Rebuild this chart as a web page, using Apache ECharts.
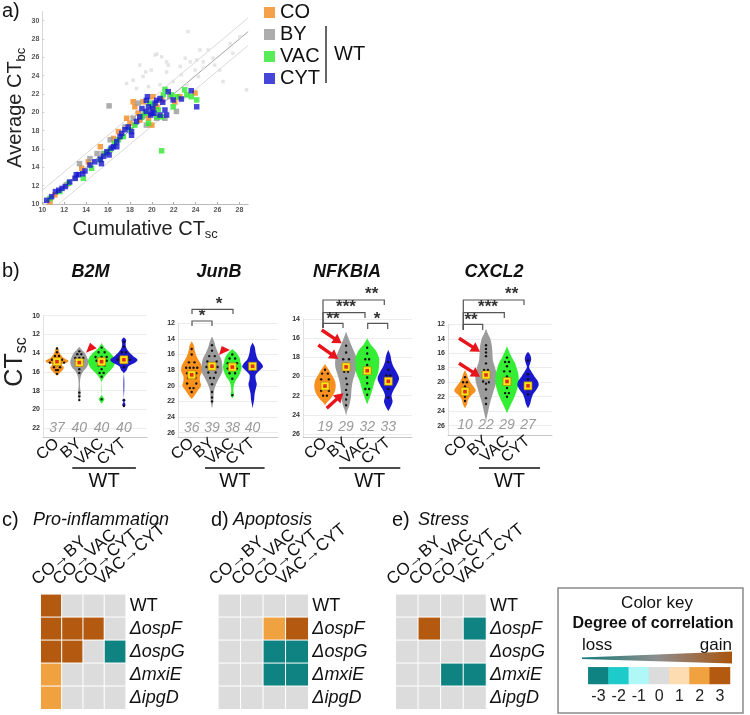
<!DOCTYPE html>
<html><head><meta charset="utf-8">
<script src="https://cdn.jsdelivr.net/npm/echarts@6/dist/echarts.min.js"></script>
<style>html,body{margin:0;padding:0;background:#fff}#c{width:750px;height:715px}</style>
</head><body><div id="c"></div>
<script>
// ---------------- DATA ----------------
const groups = ['CO', 'BY', 'VAC', 'CYT'];
// panel a: [cumulative CTsc, average CTbc]
const coPts = [[10.7,10.25],[11.15,11.0],[13.6,13.9],[14.2,14.6],[15.3,16.25],[16.5,17.15],[16.95,17.9],[17.7,19.35],[18.0,18.8],[18.3,21.15],[18.45,20.6],[18.75,19.9],[18.9,19.15],[19.2,21.15],[19.7,19.35],[20.0,18.6],[20.1,21.7],[20.45,20.6],[20.9,21.35],[22.1,21.15],[22.55,21.7],[23.95,22.1]];
const byPts = [[12.2,12.1],[13.0,12.8],[13.4,14.4],[14.35,14.95],[15.0,15.5],[15.55,15.5],[16.1,20.7],[16.2,17.0],[17.55,18.4],[18.3,19.35],[18.75,21.0],[19.2,19.7],[19.5,18.6],[20.0,20.45],[20.45,19.35],[21.2,19.35],[21.65,21.7],[22.25,20.1]];
const vacPts = [[9.95,10.1],[10.7,10.6],[11.6,11.35],[12.4,12.25],[13.75,12.8],[14.5,13.9],[15.3,14.8],[15.75,15.5],[16.2,15.9],[16.6,16.6],[16.95,17.0],[17.4,17.35],[18.0,18.1],[18.45,18.6],[19.1,19.5],[19.4,19.9],[19.7,18.8],[19.8,21.0],[20.1,20.8],[20.45,19.5],[20.6,20.25],[20.9,19.5],[20.9,15.8],[21.05,21.9],[21.2,22.5],[21.8,21.9],[21.95,20.6],[22.3,21.7],[23.0,22.45],[23.2,21.9],[23.6,21.7],[24.1,21.35]];
const cytPts = [[10.3,9.8],[10.4,10.4],[10.85,10.8],[11.2,11.35],[11.5,11.5],[11.8,11.7],[12.1,11.9],[12.5,12.4],[13.0,12.8],[13.1,13.2],[13.3,13.2],[13.7,13.3],[13.9,13.6],[14.35,14.25],[14.8,14.6],[15.3,14.9],[15.4,14.4],[15.6,15.2],[15.9,15.7],[16.1,15.35],[16.3,16.1],[16.5,16.25],[16.8,16.8],[16.8,16.25],[17.1,17.35],[17.25,17.7],[17.55,18.1],[17.85,18.4],[18.15,17.5],[18.15,17.9],[18.6,19.0],[18.9,19.5],[19.1,20.4],[19.5,21.3],[19.5,20.1],[19.6,21.7],[19.7,20.6],[19.9,19.7],[20.0,19.9],[20.1,20.4],[20.2,19.9],[20.3,21.0],[20.45,21.3],[20.75,19.7],[20.75,21.5],[21.0,21.1],[21.2,20.25],[21.35,19.7],[21.5,22.25],[21.95,21.35],[22.7,21.45],[23.6,22.35],[24.1,20.6]];
const otherPts = [[22.65,31.1],[23.3,28.8],[20.3,26.25],[20.45,26.35],[20.9,26.05],[21.35,25.5],[18.9,25.15],[19.45,24.4],[19.95,24.6],[21.35,24.4],[22.6,25.0],[23.5,25.5],[24.1,25.7],[24.7,25.5],[25.15,26.8],[25.6,25.9],[26.2,24.6],[18.3,23.5],[19.2,23.9],[20.75,23.0],[21.95,23.35],[22.7,24.1],[23.2,23.0],[23.95,24.6],[24.25,23.9],[24.7,24.8],[25.75,25.15],[26.5,23.35],[27.4,26.45],[28.65,22.45],[18.6,22.6],[19.7,22.8],[17.7,23.15],[21.5,25.15],[23.05,25.9],[24.4,26.8],[27.15,27.5],[28.05,28.25]];
const bandOffset = 1.5; // grey guide lines: y = x +/- bandOffset

// panel b: violin profiles [CTsc, half-width (px at 22px spacing)] for CO, BY, VAC, CYT
const b2mProfiles = [
  [[13.3,0],[13.6,1.5],[14.0,2.5],[14.4,5],[14.6,7],[14.8,10],[15.0,9],[15.2,4],[15.5,6],[15.8,5],[16.1,2.5],[16.4,0]],
  [[13.3,0],[13.6,2],[14.0,5],[14.5,7],[15.0,8],[15.5,6.5],[16.0,3],[16.4,1.5],[16.8,0.8],[17.5,0.6],[18.2,1.2],[18.6,1],[19.1,0]],
  [[12.9,0],[13.3,2],[13.8,6],[14.3,10],[14.8,12],[15.3,11],[15.8,8],[16.3,4],[16.8,1],[17.2,0],[18.4,0],[18.7,1.5],[18.9,2.5],[19.1,1.5],[19.4,0]],
  [[12.3,0],[12.6,2],[13.0,1.5],[13.4,2],[13.8,4],[14.3,8],[14.7,12],[15.0,10],[15.4,4],[15.8,2.5],[16.2,0],[18.8,0],[19.0,1.5],[19.2,0.5],[19.5,1.5],[19.8,0]]
];
const junbProfiles = [
  [[14.3,0],[14.8,2],[15.5,3],[16.3,5],[17.0,8],[17.6,10],[18.2,10],[18.8,8],[19.4,8],[20.0,9],[20.6,6],[21.2,3],[21.7,0]],
  [[13.7,0],[14.3,2],[15.0,3.5],[15.8,6],[16.6,9],[17.4,10],[18.2,10],[19.0,7],[19.8,4],[20.6,2],[21.4,1.5],[22.2,1],[22.9,0]],
  [[15.3,0],[15.8,4],[16.4,7],[17.0,8],[17.6,9],[18.2,8],[18.8,6],[19.4,3],[20.0,1.5],[20.6,1],[21.2,1.5],[21.6,0]],
  [[14.5,0],[15.0,2],[15.8,3],[16.6,5],[17.2,9],[17.6,10],[18.0,7],[18.6,3],[19.2,3],[19.8,4],[20.4,3],[21.0,2],[21.8,1.5],[22.5,0.5],[22.9,0]]
];
const nfkbiaProfiles = [
  [[18.7,0],[19.2,3],[19.8,6],[20.4,9],[21.0,10],[21.6,9],[22.2,6],[22.7,2],[23.0,0]],
  [[15.3,0],[15.8,1.5],[16.5,4],[17.3,7],[18.2,10],[19.0,10],[19.8,8],[20.6,6],[21.4,5],[22.2,4.5],[23.0,3],[23.6,1],[24.1,0]],
  [[16.0,0],[16.6,3],[17.3,8],[18.1,11],[18.9,11],[19.7,10],[20.5,7],[21.3,5],[22.0,3],[22.6,1],[22.9,0]],
  [[17.2,0],[17.8,2],[18.4,3],[19.0,5],[19.6,8],[20.2,10],[20.8,8],[21.4,5],[22.0,3],[22.6,4],[23.2,2],[23.6,0]]
];
const cxcl2Profiles = [
  [[18.3,0],[18.8,1.5],[19.4,3],[20.0,5],[20.6,8],[21.2,10],[21.8,6],[22.4,3],[23.0,2],[23.6,0]],
  [[12.6,0],[13.2,1.5],[14.0,4],[15.0,5.5],[16.0,6],[17.0,6.5],[18.0,8.5],[19.0,10],[20.0,9.5],[21.0,7.5],[22.0,5.5],[23.0,3.5],[24.0,2],[25.0,0.5],[25.4,0]],
  [[15.0,0],[15.6,1.5],[16.4,4],[17.2,7],[18.0,9],[18.8,10.5],[19.6,11],[20.4,10.5],[21.2,9],[22.0,7],[22.8,4.5],[23.6,2],[24.3,0]],
  [[15.8,0],[16.2,2],[16.8,3],[17.4,2],[17.9,1],[18.5,3],[19.2,6],[19.8,9],[20.4,10],[21.0,8],[21.6,5],[22.4,3],[23.0,2],[23.6,0]]
];
// single cells: [group index, CTsc, horizontal jitter (px at 22px spacing)]
const b2mCells = [[0,13.5,0],[0,13.9,0],[0,14.3,-2],[0,14.3,2],[0,14.7,-5],[0,14.7,-2],[0,14.7,2],[0,14.7,5],[0,15.0,-7],[0,15.0,7],[0,15.2,-2],[0,15.2,2],[0,15.5,-3],[0,15.5,3],[0,15.8,-1],[0,15.8,1],[0,16.2,0],
  [1,13.8,0],[1,14.1,-2],[1,14.1,2],[1,14.5,-4],[1,14.5,0],[1,14.5,4],[1,14.9,-3],[1,14.9,3],[1,15.3,-2],[1,15.3,2],[1,15.7,0],[1,16.1,0],[1,18.2,0],[1,18.6,0],[1,19.0,0],
  [2,13.4,0],[2,13.9,-3],[2,13.9,3],[2,14.4,-6],[2,14.4,0],[2,14.4,5],[2,14.8,-5],[2,14.8,5],[2,15.3,-3],[2,15.3,3],[2,15.7,0],[2,16.1,-2],[2,16.1,2],[2,16.5,0],[2,18.9,0],
  [3,12.8,0],[3,13.3,0],[3,13.9,-2],[3,13.9,2],[3,14.4,-4],[3,14.4,4],[3,14.7,-6],[3,14.7,6],[3,15.0,-2],[3,15.0,2],[3,15.5,0],[3,19.0,0],[3,19.6,0]];
const junbCells = [[0,15.3,0],[0,16.0,0],[0,17.0,-3],[0,17.0,3],[0,17.7,-6],[0,17.7,-2],[0,17.7,2],[0,17.7,6],[0,18.4,-5],[0,18.4,5],[0,19.0,-4],[0,19.0,4],[0,19.7,-5],[0,19.7,5],[0,20.3,-2],[0,20.3,2],[0,20.8,0],
  [1,14.8,0],[1,15.5,0],[1,16.2,-3],[1,16.2,3],[1,16.9,-5],[1,16.9,5],[1,17.6,-6],[1,17.6,-2],[1,17.6,2],[1,17.6,6],[1,18.3,-4],[1,18.3,4],[1,19.0,-2],[1,19.0,2],[1,19.8,0],[1,20.8,0],[1,21.5,0],[1,22.0,0],
  [2,16.0,0],[2,16.5,-3],[2,16.5,3],[2,17.1,-5],[2,17.1,5],[2,17.8,-5],[2,17.8,5],[2,18.4,-3],[2,18.4,3],[2,19.1,0],[2,21.2,0],
  [3,17.3,-2],[3,17.3,2],[3,18.0,0]];
const nfkbiaCells = [[0,19.3,0],[0,19.7,-3],[0,19.7,3],[0,20.3,-4],[0,20.3,4],[0,20.9,-2],[0,20.9,2],[0,21.5,-4],[0,21.5,4],[0,22.0,-2],[0,22.0,2],
  [1,16.8,0],[1,17.5,0],[1,18.2,-3],[1,18.2,3],[1,18.7,0],[1,19.5,-2],[1,19.5,2],[1,20.2,0],[1,20.8,1],[1,21.4,0],[1,21.9,1],[1,22.4,0],[1,23.0,0],
  [2,17.0,0],[2,17.6,0],[2,18.2,-2],[2,18.2,2],[2,18.8,0],[2,19.5,-3],[2,19.5,3],[2,20.1,0],[2,20.7,0],[2,21.3,-2],[2,21.3,2],[2,21.9,0],
  [3,18.5,0],[3,19.3,0],[3,19.9,-2],[3,19.9,2],[3,20.6,0],[3,21.3,0],[3,22.2,0]];
const cxcl2Cells = [[0,19.3,0],[0,20.0,-2],[0,20.0,2],[0,20.6,0],[0,21.3,-2],[0,21.3,2],[0,22.0,0],[0,22.6,0],
  [1,14.9,0],[1,15.4,0],[1,15.9,0],[1,16.4,0],[1,17.4,0],[1,18.3,-2],[1,18.3,2],[1,19.9,-3],[1,20.2,0],[1,20.0,3],[1,21.0,0],[1,22.2,0],[1,23.0,0],
  [2,16.6,0],[2,17.2,-2],[2,17.2,2],[2,17.8,0],[2,18.5,-3],[2,18.5,3],[2,19.2,0],[2,20.1,-2],[2,20.1,2],[2,20.8,0],[2,21.5,-2],[2,21.5,2],[2,22.0,0],
  [3,17.0,0],[3,18.9,0],[3,19.6,0],[3,20.3,-2],[3,20.3,2],[3,21.0,0],[3,21.7,0]];
const b2mMedians = [14.9, 15.0, 14.9, 14.7];
const junbMedians = [18.6, 17.5, 17.6, 17.5];
const nfkbiaMedians = [21.0, 19.0, 19.4, 20.5];
const cxcl2Medians = [21.3, 19.0, 19.9, 20.5];
const b2mCounts = [37, 40, 40, 40];
const junbCounts = [36, 39, 38, 40];
const nfkbiaCounts = [19, 29, 32, 33];
const cxcl2Counts = [10, 22, 29, 27];

// panels c-e
const transitions = ['CO→BY', 'CO→VAC', 'CO→CYT', 'VAC→CYT'];
const strains = ['WT', 'ΔospF', 'ΔospG', 'ΔmxiE', 'ΔipgD'];
const proInflammation = [[3,0,0,0],[3,3,3,0],[3,3,0,-3],[2,0,0,0],[2,0,0,0]];
const apoptosis = [[0,0,0,0],[0,0,2,3],[0,0,-3,-3],[0,0,-3,-3],[0,0,0,0]];
const stress = [[0,0,0,0],[0,3,0,-3],[0,0,0,0],[0,0,-3,-3],[0,0,0,0]];
const keyLevels = [-3, -2, -1, 0, 1, 2, 3];

// ---------------- STYLE / LAYOUT ----------------
const FONT = "'Liberation Sans', Arial, Helvetica, sans-serif";
const groupColors = ['#f28a1e', '#999999', '#2ee82e', '#1818d0'];
const violinColors = ['#f7901e', '#9b9b9b', '#33ee33', '#1a1acc'];
const keyColors = ['#0f8282', '#1ecbcb', '#b0f7f7', '#dcdcdc', '#fcdcb0', '#f0a140', '#b45a10'];
const VIOLIN_SCALE = 1.12;

const SC = {left: 42.3, bottom: 204, ppx: 10.95, ppy: 9.17, xMin: 10, xMax: 28.8, yMin: 10, yMax: 31};
const VP = [
  {left: 43, right: 147, c0: 57, step: 22.3, top: 315.7, ppu: 9.38, min: 10, max: 23, title: 'B2M', tx: 90.5},
  {left: 178, right: 278, c0: 191.7, step: 20.3, top: 323.3, ppu: 7.81, min: 12, max: 26.6, title: 'JunB', tx: 219},
  {left: 303, right: 412, c0: 325, step: 21.1, top: 319, ppu: 9.58, min: 14, max: 26.3, title: 'NFKBIA', tx: 347},
  {left: 448, right: 552, c0: 465, step: 21.0, top: 324.3, ppu: 7.24, min: 12, max: 27.3, title: 'CXCL2', tx: 494}
];
const violinData = [
  {profiles: b2mProfiles, cells: b2mCells, med: b2mMedians, n: b2mCounts},
  {profiles: junbProfiles, cells: junbCells, med: junbMedians, n: junbCounts},
  {profiles: nfkbiaProfiles, cells: nfkbiaCells, med: nfkbiaMedians, n: nfkbiaCounts},
  {profiles: cxcl2Profiles, cells: cxcl2Cells, med: cxcl2Medians, n: cxcl2Counts}
];
const HM = [
  {left: 40.7, width: 85, title: 'Pro-inflammation', lx: 2, tx: 33, data: proInflammation},
  {left: 218.3, width: 90, title: 'Apoptosis', lx: 211, tx: 233, data: apoptosis},
  {left: 395.7, width: 90.3, title: 'Stress', lx: 392, tx: 418, data: stress}
];
const HM_TOP = 594.3, HM_H = 115;

// ---------------- BUILD ----------------
const grids = [], xAxes = [], yAxes = [], series = [];
const noAxis = {axisLine: {show: false}, axisTick: {show: false}, axisLabel: {show: false}, splitLine: {show: false}};
const subRich = (a, s) => ({a: {fontSize: a, color: '#222', fontFamily: FONT}, s: {fontSize: s, color: '#222', fontFamily: FONT, padding: [Math.round(a * 0.55), 0, 0, 0]}});

// panel a
grids.push({left: SC.left, top: SC.bottom - (SC.yMax - SC.yMin) * SC.ppy, width: (SC.xMax - SC.xMin) * SC.ppx,
  height: (SC.yMax - SC.yMin) * SC.ppy, outerBoundsMode: 'none', containLabel: false});
const smallLbl = {fontSize: 7, fontWeight: 'bold', color: '#555', fontFamily: FONT};
xAxes.push({type: 'value', gridIndex: 0, min: SC.xMin, max: SC.xMax, interval: 2,
  axisLabel: Object.assign({margin: 3, showMaxLabel: false}, smallLbl),
  axisLine: {lineStyle: {color: '#aaa', width: 0.8}}, axisTick: {inside: true, length: 2, lineStyle: {color: '#aaa'}}, splitLine: {show: false},
  name: '{a|Cumulative CT}{s|sc}', nameLocation: 'middle', nameGap: 13, nameTextStyle: {rich: subRich(20, 13)}});
yAxes.push({type: 'value', gridIndex: 0, min: SC.yMin, max: SC.yMax, interval: 2,
  axisLabel: Object.assign({margin: 3, showMaxLabel: false}, smallLbl),
  axisLine: {lineStyle: {color: '#ccc', width: 0.8}}, axisTick: {inside: true, length: 2, lineStyle: {color: '#ccc'}}, splitLine: {show: false},
  name: '{a|Average CT}{s|bc}', nameLocation: 'middle', nameRotate: 90, nameGap: 12, nameTextStyle: {rich: subRich(20, 13)}});
const guide = (off) => [[Math.max(SC.xMin, SC.yMin - off), Math.max(SC.xMin, SC.yMin - off) + off], [Math.min(SC.xMax, SC.yMax - off), Math.min(SC.xMax, SC.yMax - off) + off]];
series.push({type: 'line', xAxisIndex: 0, yAxisIndex: 0, data: guide(bandOffset), symbol: 'none', silent: true, lineStyle: {color: '#cfcfcf', width: 0.8}, z: 1});
series.push({type: 'line', xAxisIndex: 0, yAxisIndex: 0, data: guide(-bandOffset), symbol: 'none', silent: true, lineStyle: {color: '#cfcfcf', width: 0.8}, z: 1});
series.push({type: 'line', xAxisIndex: 0, yAxisIndex: 0, data: guide(0), symbol: 'none', silent: true, lineStyle: {color: '#8c8c8c', width: 0.8}, z: 1});
series.push({type: 'scatter', name: 'other', xAxisIndex: 0, yAxisIndex: 0, data: otherPts, symbol: 'rect', symbolSize: 3.5, itemStyle: {color: '#dedede'}, silent: true, z: 2});
[coPts, byPts, vacPts, cytPts].forEach((pts, i) => {
  series.push({type: 'scatter', name: groups[i], xAxisIndex: 0, yAxisIndex: 0, data: pts, symbol: 'rect', symbolSize: 5.5,
    itemStyle: {color: groupColors[i]}, silent: true, z: 3});
});

// panel b
VP.forEach((p, k) => {
  const bg = grids.length;
  const h = (p.max - p.min) * p.ppu;
  grids.push({left: p.left, top: p.top, width: p.right - p.left, height: h, outerBoundsMode: 'none', containLabel: false});
  xAxes.push(Object.assign({type: 'value', gridIndex: bg, min: 0, max: 1, position: 'bottom'}, noAxis,
    {axisLine: {show: true, onZero: false, lineStyle: {color: '#c8c8c8', width: 1}}}));
  yAxes.push({type: 'value', gridIndex: bg, inverse: true, min: p.min, max: p.max, interval: 2,
    axisLabel: Object.assign({margin: 3, showMaxLabel: false, showMinLabel: true}, smallLbl, {color: '#333'}),
    axisLine: {show: true, lineStyle: {color: '#e0e0e0'}}, axisTick: {show: false},
    splitLine: {show: true, lineStyle: {color: '#ececec', width: 1}}});
  const cg = grids.length;
  grids.push({left: p.c0 - p.step / 2, top: p.top, width: 4 * p.step, height: h, outerBoundsMode: 'none', containLabel: false});
  xAxes.push({type: 'category', gridIndex: cg, boundaryGap: true, axisLine: {show: false}, axisTick: {show: false}, splitLine: {show: false},
    data: groups.map(gn => gn === 'VAC' ? {value: gn, textStyle: {padding: [13, 0, 0, 0]}} : gn),
    axisLabel: {interval: 0, rotate: 40, margin: 4, fontSize: 16, color: '#111', fontFamily: FONT}});
  yAxes.push(Object.assign({type: 'value', gridIndex: cg, inverse: true, min: p.min, max: p.max}, noAxis));
  const vd = violinData[k];
  series.push({type: 'custom', xAxisIndex: cg, yAxisIndex: cg, silent: true, z: 2, encode: {x: 0, y: 1},
    data: vd.med.map((m, i) => ({value: [i, m], itemStyle: {color: violinColors[i]}})),
    renderItem(params, api) {
      const i = api.value(0);
      const kk = VIOLIN_SCALE * api.size([1, 0])[0] / 22;
      const right = [], left = [];
      vd.profiles[i].forEach(([y, w]) => {
        const c = api.coord([i, y]);
        right.push([c[0] + w * kk, c[1]]);
        left.push([c[0] - w * kk, c[1]]);
      });
      return {type: 'polygon', shape: {points: right.concat(left.reverse()), smooth: 0.3}, style: {fill: api.visual('color')}};
    }});
  series.push({type: 'custom', xAxisIndex: cg, yAxisIndex: cg, silent: true, z: 3, encode: {x: 0, y: 1},
    data: vd.cells,
    renderItem(params, api) {
      const c = api.coord([api.value(0), api.value(1)]);
      const kk = api.size([1, 0])[0] / 22;
      return {type: 'circle', shape: {cx: c[0] + api.value(2) * kk, cy: c[1], r: 1.2}, style: {fill: '#111'}};
    }});
  series.push({type: 'custom', xAxisIndex: cg, yAxisIndex: cg, silent: true, z: 4, encode: {x: 0, y: 1},
    data: vd.med.map((m, i) => [i, m]),
    renderItem(params, api) {
      const c = api.coord([api.value(0), api.value(1)]);
      return {type: 'group', children: [
        {type: 'rect', shape: {x: c[0] - 4, y: c[1] - 4, width: 8, height: 8}, style: {fill: '#ffe41a', stroke: '#b07a00', lineWidth: 0.6}},
        {type: 'rect', shape: {x: c[0] - 1.8, y: c[1] - 1.8, width: 3.6, height: 3.6}, style: {fill: '#e0301c'}}
      ]};
    }});
  series.push({type: 'custom', xAxisIndex: cg, yAxisIndex: cg, silent: true, z: 4, encode: {x: 0, y: 1},
    data: vd.n.map((n, i) => [i, p.max, n]),
    renderItem(params, api) {
      const c = api.coord([api.value(0), api.value(1)]);
      return {type: 'text', x: c[0], y: c[1] - 9.5, style: {text: String(api.value(2)), fontSize: 14, fontStyle: 'italic', fill: '#9a9a9a',
        fontFamily: FONT, align: 'center', verticalAlign: 'middle', textAlign: 'center', textVerticalAlign: 'middle'}};
    }});
});

// panels c-e heatmaps
const hmSeries = [];
const rowRich = {n: {fontSize: 18, color: '#111', fontFamily: FONT}, i: {fontSize: 18, fontStyle: 'italic', color: '#111', fontFamily: FONT}};
HM.forEach((m) => {
  const gi = grids.length;
  grids.push({left: m.left, top: HM_TOP, width: m.width, height: HM_H, outerBoundsMode: 'none', containLabel: false});
  xAxes.push(Object.assign({type: 'category', gridIndex: gi, data: transitions, position: 'top'}, noAxis));
  const xi = xAxes.length - 1;
  yAxes.push({type: 'category', gridIndex: gi, data: strains, inverse: true, position: 'right', axisLine: {show: false}, axisTick: {show: false},
    splitLine: {show: false}, axisLabel: {interval: 0, margin: 4, align: 'left', formatter: v => v === 'WT' ? '{n|' + v + '}' : '{i|' + v + '}', rich: rowRich}});
  const yi = yAxes.length - 1;
  const data = [];
  m.data.forEach((row, r) => row.forEach((v, c) => data.push([c, r, v])));
  hmSeries.push(series.length);
  series.push({type: 'heatmap', xAxisIndex: xi, yAxisIndex: yi, data, silent: true, itemStyle: {borderColor: '#ffffff', borderWidth: 1}});
});
// color key cells
const kg = grids.length;
grids.push({left: 588.3, top: 667.3, width: 141.7, height: 16.7, outerBoundsMode: 'none', containLabel: false});
xAxes.push({type: 'category', gridIndex: kg, data: keyLevels.map(String), axisLine: {show: false}, axisTick: {show: false}, splitLine: {show: false},
  axisLabel: {interval: 0, margin: 5, fontSize: 16, color: '#222', fontFamily: FONT}});
yAxes.push(Object.assign({type: 'category', gridIndex: kg, data: ['']}, noAxis));
hmSeries.push(series.length);
series.push({type: 'heatmap', xAxisIndex: xAxes.length - 1, yAxisIndex: yAxes.length - 1, silent: true,
  data: keyLevels.map((v, i) => [i, 0, v]), itemStyle: {borderWidth: 0}});

// ---------------- ANNOTATIONS ----------------
const g = [];
function txt(x, y, text, o = {}) {
  const rot = o.rotation; delete o.rotation;
  const st = Object.assign({text, fontSize: 20, fill: '#111', fontFamily: FONT, align: 'left', verticalAlign: 'middle'}, o);
  st.textAlign = st.align; st.textVerticalAlign = st.verticalAlign;
  const el = {type: 'text', x, y, z: 100, style: st};
  if (rot) el.rotation = rot;
  return el;
}
function line(pts, color = '#444', w = 1.3) {
  return {type: 'polyline', z: 100, shape: {points: pts}, style: {stroke: color, lineWidth: w, fill: null}};
}
function arrow(x1, y1, x2, y2) {
  const dx = x2 - x1, dy = y2 - y1, L = Math.hypot(dx, dy), ux = dx / L, uy = dy / L, px = -uy, py = ux;
  const hl = 9, hw = 5.5, sw = 1.7, bx = x2 - ux * hl, by = y2 - uy * hl;
  return {type: 'polygon', z: 100, shape: {points: [[x1 + px * sw, y1 + py * sw], [bx + px * sw, by + py * sw], [bx + px * hw, by + py * hw], [x2, y2],
    [bx - px * hw, by - py * hw], [bx - px * sw, by - py * sw], [x1 - px * sw, y1 - py * sw]]}, style: {fill: '#e8141c'}};
}
function tri(pts) { return {type: 'polygon', z: 100, shape: {points: pts}, style: {fill: '#e8141c'}}; }
function stars(x, y, s) { return txt(x, y, s, {fontSize: 17, fontWeight: 'bold', fill: '#333', align: 'center', verticalAlign: 'middle'}); }
function bracket(x1, x2, y, l1, l2) { return line([[x1, l1], [x1, y], [x2, y], [x2, l2]], '#555', 1.2); }

g.push(txt(2, 11, 'a)'));
g.push(line([[326, 26], [326, 83]], '#333', 1.5));
g.push(txt(334, 54, 'WT'));
g.push(txt(2, 271, 'b)'));
VP.forEach((p) => {
  g.push(txt(p.tx, 272, p.title, {fontSize: 18, fontWeight: 'bold', fontStyle: 'italic', align: 'center'}));
  const xa = p.c0 + p.step - 7, xb = p.c0 + 3 * p.step + 12;
  g.push(line([[xa, 468], [xb, 468]], '#111', 1.5));
  g.push(txt((xa + xb) / 2, 481, 'WT', {align: 'center'}));
});
g.push({type: 'text', x: 15, y: 362, z: 100, rotation: Math.PI / 2,
  style: {text: '{a|CT}{s|sc}', rich: {a: {fontSize: 25, fill: '#222', fontFamily: FONT}, s: {fontSize: 16, fill: '#222', fontFamily: FONT, padding: [14, 0, 0, 0]}},
    align: 'center', verticalAlign: 'middle', textAlign: 'center', textVerticalAlign: 'middle'}});
// significance brackets
g.push(bracket(192, 212, 321, 326, 326), stars(202, 316, '*'));
g.push(bracket(192, 233, 309.3, 314, 314), stars(219, 304, '*'));
g.push(bracket(323, 384.3, 300, 328, 305), stars(371.7, 294, '**'));
g.push(bracket(323, 365, 312.7, 328, 318), stars(346, 307, '***'));
g.push(bracket(323, 343, 323.3, 328, 328), stars(333, 319, '**'));
g.push(bracket(367.7, 387.7, 323.3, 329, 329), stars(377, 319, '*'));
g.push(bracket(463.3, 524, 300, 330, 305), stars(511.7, 294, '**'));
g.push(bracket(463.3, 504.3, 312.7, 330, 318), stars(488, 307, '***'));
g.push(bracket(463.3, 482.7, 324.3, 330, 330), stars(471, 320, '**'));
// red markers
g.push(tri([[86, 352.7], [90, 342.7], [96.7, 348.3]]));
g.push(tri([[219, 355], [221.7, 346], [230, 350]]));
g.push(arrow(321.7, 330, 341.7, 343.3), arrow(318.3, 345, 338.3, 359), arrow(326.7, 408.3, 343.3, 393.3));
g.push(arrow(459, 338.3, 480, 351.7), arrow(459, 363.3, 480, 376.7));
// heatmap titles and rotated transition labels
HM.forEach((m, i) => {
  g.push(txt(m.lx, 520, ['c)', 'd)', 'e)'][i]));
  g.push(txt(m.tx, 520, m.title, {fontSize: 18, fontStyle: 'italic'}));
  transitions.forEach((t, c) => {
    const parts = t.split('→');
    g.push({type: 'text', x: m.left + c * m.width / 4 - 1, y: HM_TOP - 6, rotation: 40 * Math.PI / 180, z: 100,
      style: {text: '{t|' + parts[0] + '}{r|→}{t|' + parts[1] + '}',
        rich: {t: {fontSize: 17, fill: '#111', fontFamily: FONT}, r: {fontSize: 17, fontWeight: 'bold', fill: '#111', fontFamily: FONT}},
        align: 'left', verticalAlign: 'bottom', textAlign: 'left', textVerticalAlign: 'bottom'}});
  });
});
// color key
g.push({type: 'rect', z: 90, shape: {x: 558, y: 588, width: 185, height: 125}, style: {fill: null, stroke: '#8a8a8a', lineWidth: 1.5}});
g.push(txt(657, 603, 'Color key', {fontSize: 17, align: 'center'}));
g.push(txt(653, 624, 'Degree of correlation', {fontSize: 16, fontWeight: 'bold', align: 'center'}));
g.push(txt(582, 645, 'loss', {fontSize: 17}));
g.push(txt(732, 645, 'gain', {fontSize: 17, align: 'right'}));
g.push({type: 'polygon', z: 100, shape: {points: [[582, 657.5], [732, 651.5], [732, 663.5], [582, 659]]},
  style: {fill: {type: 'linear', x: 0, y: 0, x2: 1, y2: 0, colorStops: [{offset: 0, color: '#137878'}, {offset: 0.5, color: '#8e8e8e'}, {offset: 1, color: '#a9540d'}]}}});

const option = {
  animation: false,
  backgroundColor: '#ffffff',
  textStyle: {fontFamily: FONT},
  grid: grids, xAxis: xAxes, yAxis: yAxes, series,
  legend: {data: groups, orient: 'vertical', left: 264, top: 2.5, icon: 'rect', itemWidth: 11, itemHeight: 11, itemGap: 2, padding: 0,
    textStyle: {fontSize: 20, lineHeight: 18.5, color: '#111', fontFamily: FONT}, selectedMode: false},
  visualMap: {type: 'piecewise', show: false, seriesIndex: hmSeries, dimension: 2,
    pieces: keyLevels.map((v, i) => ({value: v, color: keyColors[i]}))},
  graphic: {elements: g}
};
const chart = echarts.init(document.getElementById('c'), null, {renderer: 'canvas'});
chart.setOption(option);
</script></body></html>
